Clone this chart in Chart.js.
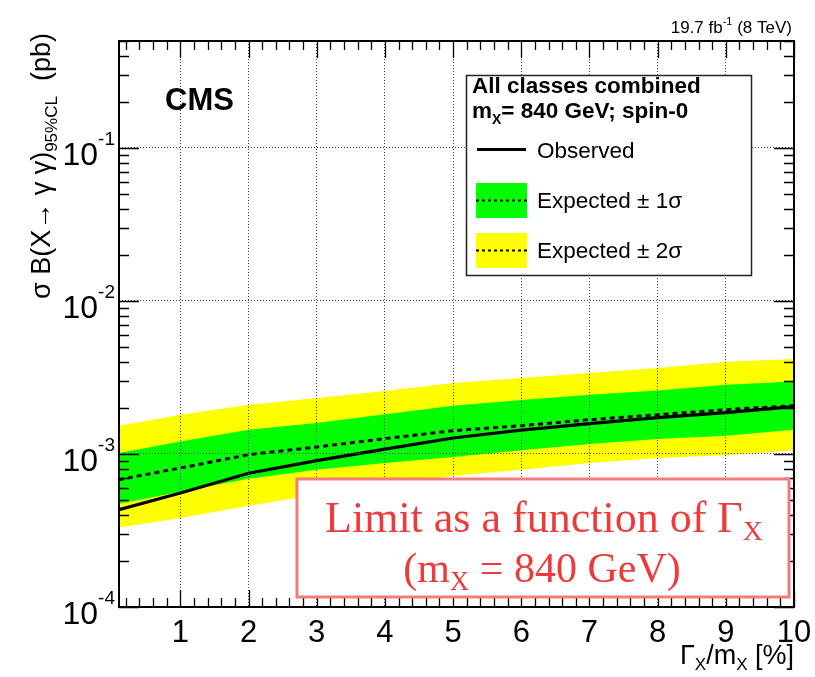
<!DOCTYPE html>
<html><head><meta charset="utf-8">
<script src="https://cdn.jsdelivr.net/npm/chart.js@4.4.1/dist/chart.umd.min.js"></script>
<style>html,body{margin:0;padding:0;background:#fff;} #wrap{width:815px;height:677px;position:relative;}</style>
</head><body>
<div id="wrap"><canvas id="c" width="815" height="677"></canvas></div>
<script>
// ---- data ----
const widths = [0.1, 1, 2, 3, 4, 5, 6, 7, 8, 9, 10];            // Gamma_X / m_X [%]
const observed   = [4.33e-4, 5.56e-4, 7.49e-4, 9.04e-4, 1.075e-3, 1.272e-3, 1.431e-3, 1.578e-3, 1.726e-3, 1.862e-3, 2.037e-3];
const expected   = [6.79e-4, 8.10e-4, 9.89e-4, 1.111e-3, 1.259e-3, 1.42e-3, 1.531e-3, 1.675e-3, 1.806e-3, 1.948e-3, 2.07e-3];
const oneSigmaHi = [1.015e-3, 1.208e-3, 1.442e-3, 1.594e-3, 1.82e-3, 2.07e-3, 2.254e-3, 2.44e-3, 2.604e-3, 2.837e-3, 2.982e-3];
const oneSigmaLo = [4.73e-4, 5.67e-4, 6.9e-4, 7.9e-4, 8.73e-4, 9.56e-4, 1.059e-3, 1.162e-3, 1.253e-3, 1.317e-3, 1.442e-3];
const twoSigmaHi = [1.531e-3, 1.806e-3, 2.10e-3, 2.323e-3, 2.584e-3, 2.911e-3, 3.14e-3, 3.38e-3, 3.65e-3, 4.01e-3, 4.18e-3];
const twoSigmaLo = [3.31e-4, 3.82e-4, 4.59e-4, 5.42e-4, 6.3e-4, 7.21e-4, 7.9e-4, 8.73e-4, 9.42e-4, 9.8e-4, 1.056e-3];
const xTicks = [1, 2, 3, 4, 5, 6, 7, 8, 9, 10];
const yTicks = [1e-4, 1e-3, 1e-2, 1e-1];
const yTickExps = ['-4', '-3', '-2', '-1'];
const xRange = [0.1, 10];
const yRange = [1e-4, 0.5];

const SANS = '"Liberation Sans", Arial, Helvetica, sans-serif';
const SERIF = '"Liberation Serif", "Times New Roman", Times, serif';

function pts(ys) { return widths.map((x, i) => ({x: x, y: ys[i]})); }

function rich(ctx, parts, x, y, align) {
  let total = 0;
  const ws = parts.map(p => { ctx.font = (p.bold ? 'bold ' : '') + p.size + 'px ' + (p.family || SANS); const w = ctx.measureText(p.t).width; total += w; return w; });
  let cx = align === 'right' ? x - total : (align === 'center' ? x - total / 2 : x);
  parts.forEach((p, i) => {
    ctx.font = (p.bold ? 'bold ' : '') + p.size + 'px ' + (p.family || SANS);
    ctx.fillText(p.t, cx, y + (p.dy || 0));
    cx += ws[i];
  });
}

const overlay = {
  id: 'overlay',
  afterDraw(chart) {
    const ctx = chart.ctx, a = chart.chartArea, xs = chart.scales.x, ys = chart.scales.y;
    ctx.save();
    ctx.textAlign = 'left';
    ctx.textBaseline = 'alphabetic';
    // tick marks on all four sides
    ctx.strokeStyle = '#000';
    ctx.lineWidth = 1.3;
    ctx.beginPath();
    for (let k = 1; k <= 50; k++) {
      const v = k * 0.2;
      const len = (k % 5 === 0) ? 17 : 9;
      const px = Math.round(xs.getPixelForValue(v)) + 0.5;
      ctx.moveTo(px, a.bottom); ctx.lineTo(px, a.bottom - len);
      ctx.moveTo(px, a.top); ctx.lineTo(px, a.top + len);
    }
    for (let e = -4; e <= -1; e++) {
      for (let m = 1; m <= 9; m++) {
        const v = m * Math.pow(10, e);
        if (v > yRange[1] * 1.0001) break;
        const len = (m === 1) ? 20 : 10;
        const py = Math.round(ys.getPixelForValue(v)) + 0.5;
        ctx.moveTo(a.left, py); ctx.lineTo(a.left + len, py);
        ctx.moveTo(a.right, py); ctx.lineTo(a.right - len, py);
      }
    }
    ctx.stroke();
    // frame
    ctx.lineWidth = 2;
    ctx.strokeRect(a.left, a.top, a.right - a.left, a.bottom - a.top);

    // y tick labels 10^n
    ctx.fillStyle = '#000';
    yTicks.forEach((v, i) => {
      const py = ys.getPixelForValue(v);
      ctx.font = '32px ' + SANS;
      const w10 = ctx.measureText('10').width;
      ctx.font = '19px ' + SANS;
      const we = ctx.measureText(yTickExps[i]).width;
      const right = 115;
      ctx.font = '32px ' + SANS;
      ctx.fillText('10', right - we - w10, py + 17);
      ctx.font = '19px ' + SANS;
      ctx.fillText(yTickExps[i], right - we, py - 3);
    });

    // y title (rotated)
    ctx.save();
    ctx.translate(50, 299);
    ctx.rotate(-Math.PI / 2);
    rich(ctx, [
      {t: 'σ B(X→ γ γ)', size: 27},
      {t: '95%CL', size: 17, dy: 7},
      {t: '  (pb)', size: 27}
    ], 0, 0, 'left');
    ctx.restore();

    // x title
    rich(ctx, [
      {t: 'Γ', size: 27}, {t: 'X', size: 17, dy: 6},
      {t: '/m', size: 27}, {t: 'X', size: 17, dy: 6},
      {t: ' [%]', size: 27}
    ], 794, 664, 'right');

    // top right lumi
    rich(ctx, [
      {t: '19.7 fb', size: 17}, {t: '-1', size: 11, dy: -8}, {t: ' (8 TeV)', size: 17}
    ], 792, 33, 'right');

    // CMS
    ctx.font = 'bold 31px ' + SANS;
    ctx.fillText('CMS', 165, 110);

    // legend box
    ctx.fillStyle = '#fff';
    ctx.fillRect(466, 75, 286, 201);
    ctx.strokeStyle = '#222';
    ctx.lineWidth = 1.5;
    ctx.strokeRect(466.5, 75.5, 285, 200);
    ctx.fillStyle = '#000';
    ctx.font = 'bold 22.5px ' + SANS;
    ctx.fillText('All classes combined', 472, 93);
    rich(ctx, [
      {t: 'm', size: 22.5, bold: true}, {t: 'X', size: 14, bold: true, dy: 6},
      {t: '= 840 GeV; spin-0', size: 22.5, bold: true}
    ], 472, 118, 'left');
    // observed sample
    ctx.strokeStyle = '#000';
    ctx.lineWidth = 3;
    ctx.beginPath(); ctx.moveTo(477, 149.5); ctx.lineTo(526, 149.5); ctx.stroke();
    ctx.font = '22.5px ' + SANS;
    ctx.fillText('Observed', 537, 158);
    ctx.fillStyle = '#00ff00';
    ctx.fillRect(476, 183, 51, 35);
    ctx.fillStyle = '#ffff00';
    ctx.fillRect(476, 233, 51, 35);
    ctx.lineWidth = 2;
    ctx.setLineDash([3, 3]);
    ctx.beginPath(); ctx.moveTo(476, 200.5); ctx.lineTo(527, 200.5);
    ctx.moveTo(476, 250.5); ctx.lineTo(527, 250.5); ctx.stroke();
    ctx.setLineDash([]);
    ctx.fillStyle = '#000';
    ctx.font = '22.5px ' + SANS;
    ctx.fillText('Expected ± 1σ', 537, 208);
    ctx.fillText('Expected ± 2σ', 537, 258);

    // red annotation box
    ctx.fillStyle = '#fff';
    ctx.fillRect(296, 478, 494, 120);
    ctx.strokeStyle = 'rgba(240,100,100,0.85)';
    ctx.lineWidth = 3;
    ctx.strokeRect(297, 479, 492, 118);
    ctx.fillStyle = '#ee3a3a';
    rich(ctx, [
      {t: 'Limit as a function of Γ', size: 44, family: SERIF},
      {t: 'X', size: 28, family: SERIF, dy: 8}
    ], 544, 532, 'center');
    rich(ctx, [
      {t: '(m', size: 42, family: SERIF},
      {t: 'X', size: 27, family: SERIF, dy: 8},
      {t: ' = 840 GeV)', size: 42, family: SERIF}
    ], 542, 582, 'center');
    ctx.restore();
  }
};

const gridStyle = { color: '#444', lineWidth: 1, drawTicks: false, z: 1 };

new Chart(document.getElementById('c'), {
  type: 'line',
  data: {
    datasets: [
      { label: 'Expected ± 2σ (upper)', data: pts(twoSigmaHi), borderColor: 'rgba(0,0,0,0)', backgroundColor: '#ffff00', fill: '+1', pointRadius: 0, borderWidth: 1, order: 5 },
      { label: 'Expected ± 2σ (lower)', data: pts(twoSigmaLo), borderColor: 'rgba(0,0,0,0)', backgroundColor: '#ffff00', fill: false, pointRadius: 0, borderWidth: 1, order: 4 },
      { label: 'Expected ± 1σ (upper)', data: pts(oneSigmaHi), borderColor: 'rgba(0,0,0,0)', backgroundColor: '#00ff00', fill: '+1', pointRadius: 0, borderWidth: 1, order: 3 },
      { label: 'Expected ± 1σ (lower)', data: pts(oneSigmaLo), borderColor: 'rgba(0,0,0,0)', backgroundColor: '#00ff00', fill: false, pointRadius: 0, borderWidth: 1, order: 2 },
      { label: 'Expected', data: pts(expected), borderColor: '#000', borderWidth: 3, borderDash: [5, 4], fill: false, pointRadius: 0, order: 1 },
      { label: 'Observed', data: pts(observed), borderColor: '#000', borderWidth: 3.2, fill: false, pointRadius: 0, order: 0 }
    ]
  },
  options: {
    responsive: false,
    animation: false,
    devicePixelRatio: 1,
    layout: { padding: { top: 41, right: 21, left: 0, bottom: 0 } },
    plugins: { legend: { display: false }, tooltip: { enabled: false } },
    elements: { line: { tension: 0 } },
    scales: {
      x: {
        type: 'linear', min: xRange[0], max: xRange[1],
        afterBuildTicks: s => { s.ticks = xTicks.map(v => ({ value: v })); },
        afterFit: s => { s.height = 70; s.paddingLeft = 0; s.paddingRight = 0; },
        grid: gridStyle,
        border: { display: false, dash: [1, 2] },
        ticks: { color: '#000', font: { family: SANS, size: 31 }, padding: 8, maxRotation: 0, autoSkip: false, callback: v => String(v) }
      },
      y: {
        type: 'logarithmic', min: yRange[0], max: yRange[1],
        afterBuildTicks: s => { s.ticks = yTicks.map(v => ({ value: v })); },
        afterFit: s => { s.width = 119; s.paddingTop = 0; s.paddingBottom = 0; },
        grid: gridStyle,
        border: { display: false, dash: [1, 2] },
        ticks: { display: false }
      }
    }
  },
  plugins: [overlay]
});
</script>
</body></html>
